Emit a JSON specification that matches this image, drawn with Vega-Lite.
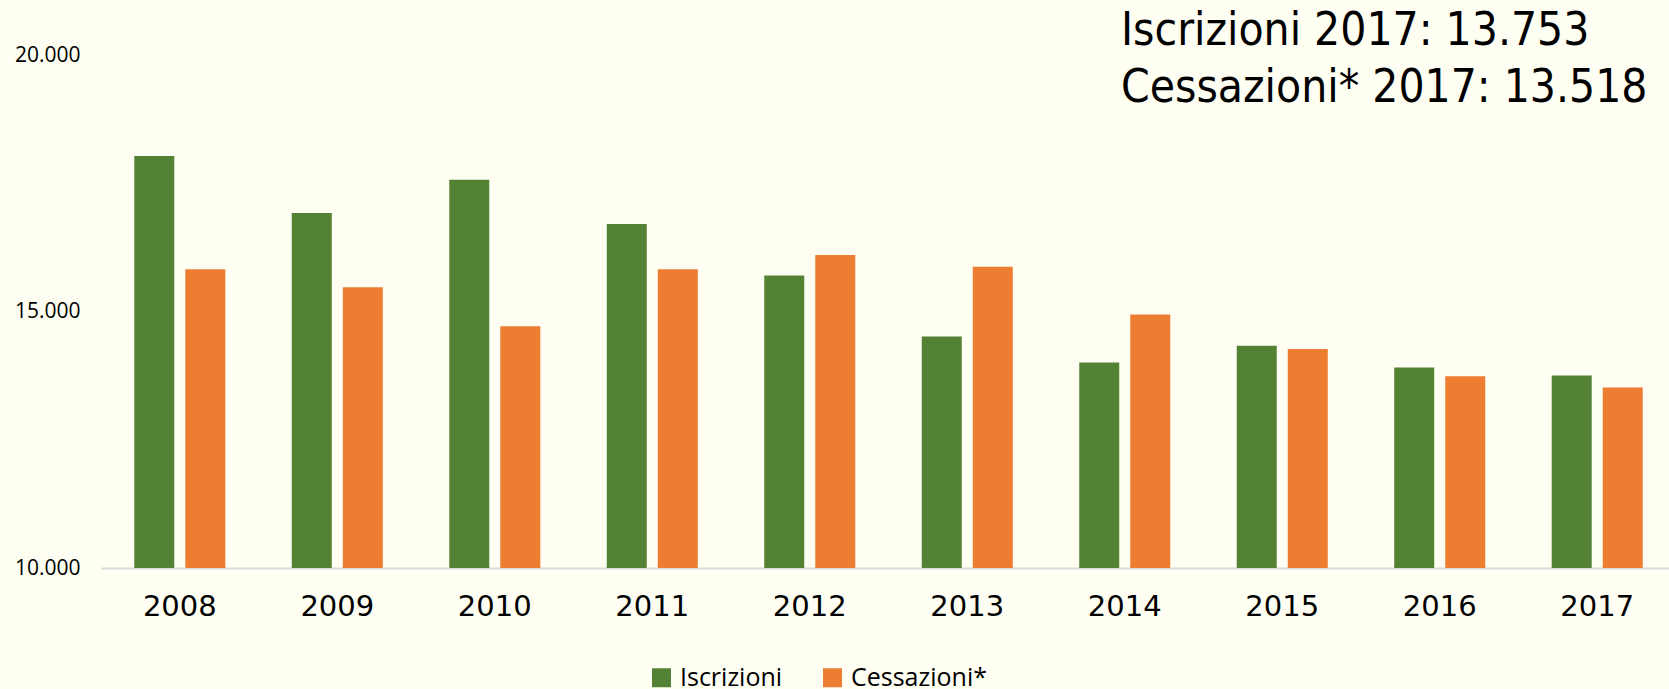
{
  "$schema": "https://vega.github.io/schema/vega-lite/v6.json",
  "width": 1568,
  "height": 513,
  "autosize": {"type": "none"},
  "padding": {"left": 101, "top": 55, "right": 0, "bottom": 121},
  "background": "#fefff2",
  "title": {
    "text": ["Iscrizioni 2017: 13.753", "Cessazioni* 2017: 13.518"],
    "anchor": "start",
    "align": "left",
    "frame": "group",
    "orient": "top",
    "font": "DejaVu Sans Condensed",
    "fontSize": 45.7,
    "fontWeight": "normal",
    "color": "#000000",
    "lineHeight": 57,
    "baseline": "alphabetic",
    "offset": 0,
    "dx": 1020,
    "dy": 104
  },
  "data": {
    "values": [
      {"year": "2008", "serie": "Iscrizioni", "value": 18030},
      {"year": "2008", "serie": "Cessazioni*", "value": 15826},
      {"year": "2009", "serie": "Iscrizioni", "value": 16918},
      {"year": "2009", "serie": "Cessazioni*", "value": 15475},
      {"year": "2010", "serie": "Iscrizioni", "value": 17568},
      {"year": "2010", "serie": "Cessazioni*", "value": 14714},
      {"year": "2011", "serie": "Iscrizioni", "value": 16704},
      {"year": "2011", "serie": "Cessazioni*", "value": 15826},
      {"year": "2012", "serie": "Iscrizioni", "value": 15703},
      {"year": "2012", "serie": "Cessazioni*", "value": 16099},
      {"year": "2013", "serie": "Iscrizioni", "value": 14513},
      {"year": "2013", "serie": "Cessazioni*", "value": 15871},
      {"year": "2014", "serie": "Iscrizioni", "value": 14006},
      {"year": "2014", "serie": "Cessazioni*", "value": 14942},
      {"year": "2015", "serie": "Iscrizioni", "value": 14330},
      {"year": "2015", "serie": "Cessazioni*", "value": 14268},
      {"year": "2016", "serie": "Iscrizioni", "value": 13909},
      {"year": "2016", "serie": "Cessazioni*", "value": 13739},
      {"year": "2017", "serie": "Iscrizioni", "value": 13753},
      {"year": "2017", "serie": "Cessazioni*", "value": 13518}
    ]
  },
  "mark": {"type": "bar"},
  "encoding": {
    "x": {
      "field": "year",
      "type": "nominal",
      "scale": {"paddingInner": 0.422, "paddingOuter": 0.189, "align": 0.559},
      "axis": {
        "title": null,
        "labelAngle": 0,
        "ticks": false,
        "domainColor": "#d9d9d9",
        "domainWidth": 2,
        "labelFont": "DejaVu Sans",
        "labelFontSize": 29,
        "labelColor": "#000000",
        "labelPadding": 24
      }
    },
    "xOffset": {
      "field": "serie",
      "type": "nominal",
      "sort": ["Iscrizioni", "Cessazioni*"],
      "scale": {"paddingInner": 0.216}
    },
    "y": {
      "field": "value",
      "type": "quantitative",
      "scale": {"domain": [10000, 20000], "zero": false, "nice": false},
      "axis": {
        "title": null,
        "values": [10000, 15000, 20000],
        "grid": false,
        "domain": false,
        "ticks": false,
        "labelExpr": "replace(format(datum.value, ','), ',', '.')",
        "labelFont": "Open Sans",
        "labelFontSize": 21,
        "labelColor": "#000000",
        "labelPadding": 21
      }
    },
    "y2": {"datum": 10000},
    "color": {
      "field": "serie",
      "type": "nominal",
      "scale": {"domain": ["Iscrizioni", "Cessazioni*"], "range": ["#548235", "#ed7d31"]},
      "legend": {
        "title": null,
        "orient": "none",
        "direction": "horizontal",
        "legendX": 548,
        "legendY": 610,
        "symbolType": "square",
        "symbolSize": 361,
        "symbolStrokeWidth": 0,
        "labelFont": "Open Sans",
        "labelFontSize": 25,
        "labelColor": "#000000",
        "labelOffset": 6,
        "columnPadding": 37
      }
    }
  },
  "config": {"view": {"stroke": null}}
}
